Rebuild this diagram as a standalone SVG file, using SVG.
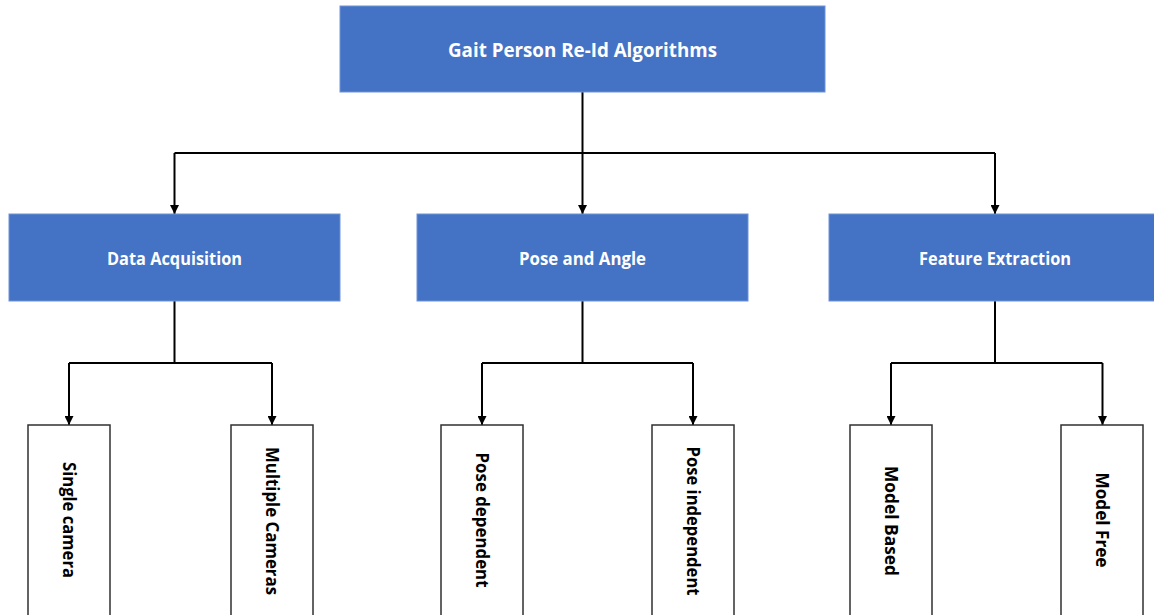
<svg xmlns="http://www.w3.org/2000/svg" width="1154" height="615" viewBox="0 0 1154 615">
  <style>
    .head { fill: #4472C4; stroke: #6E93D6; stroke-width: 1; }
    .leaf { fill: #FFFFFF; stroke: #303030; stroke-width: 1.5; }
    .htxt { font-family: "Open Sans", "Noto Sans", sans-serif; font-weight: bold; fill: #FFFFFF; text-anchor: middle; }
    .ltxt { font-family: "Open Sans", "Noto Sans", sans-serif; font-weight: bold; fill: #000000; text-anchor: middle; font-size: 18.5px; }
    .wire { fill: none; stroke: #000000; stroke-width: 2; }
  </style>
  <defs>
    <marker id="arrow" viewBox="0 0 10 10" refX="10" refY="5" markerWidth="4.5" markerHeight="4.5" orient="auto" markerUnits="strokeWidth">
      <path d="M0,0 L10,5 L0,10 Z" fill="#000000"/>
    </marker>
  </defs>

  <rect width="1154" height="615" fill="#FFFFFF"/>

  <!-- connectors -->
  <g id="connectors" class="wire">
    <path d="M582.5,92 V153"/>
    <path d="M174.5,153 H995"/>
    <path d="M174.5,153 V214" marker-end="url(#arrow)"/>
    <path d="M582.5,153 V214" marker-end="url(#arrow)"/>
    <path d="M995,153 V214" marker-end="url(#arrow)"/>

    <path d="M174.5,301 V363 M69,363 H272"/>
    <path d="M69,363 V425" marker-end="url(#arrow)"/>
    <path d="M272,363 V425" marker-end="url(#arrow)"/>

    <path d="M582.5,301 V363 M482,363 H693"/>
    <path d="M482,363 V425" marker-end="url(#arrow)"/>
    <path d="M693,363 V425" marker-end="url(#arrow)"/>

    <path d="M995,301 V363 M891,363 H1102.5"/>
    <path d="M891,363 V425" marker-end="url(#arrow)"/>
    <path d="M1102.5,363 V425" marker-end="url(#arrow)"/>
  </g>

  <!-- root -->
  <g id="root">
    <rect class="head" x="340" y="6" width="485" height="86"/>
    <text class="htxt" x="582.5" y="57" font-size="19.5" textLength="269" lengthAdjust="spacingAndGlyphs">Gait Person Re-Id Algorithms</text>
  </g>

  <!-- categories -->
  <g id="data-acquisition">
    <rect class="head" x="9" y="214" width="331" height="87"/>
    <text class="htxt" x="174.5" y="265" font-size="17.5" textLength="135" lengthAdjust="spacingAndGlyphs">Data Acquisition</text>
  </g>
  <g id="pose-and-angle">
    <rect class="head" x="417" y="214" width="331" height="87"/>
    <text class="htxt" x="582.5" y="265" font-size="17.5" textLength="127" lengthAdjust="spacingAndGlyphs">Pose and Angle</text>
  </g>
  <g id="feature-extraction">
    <rect class="head" x="829" y="214" width="331" height="87"/>
    <text class="htxt" x="995" y="265" font-size="17.5" textLength="152" lengthAdjust="spacingAndGlyphs">Feature Extraction</text>
  </g>

  <!-- leaves (vertical labels) -->
  <g id="single-camera">
    <rect class="leaf" x="28" y="425" width="82" height="200"/>
    <text class="ltxt" transform="translate(69,520) rotate(90)" x="0" y="6.5" textLength="116" lengthAdjust="spacingAndGlyphs">Single camera</text>
  </g>
  <g id="multiple-cameras">
    <rect class="leaf" x="231" y="425" width="82" height="200"/>
    <text class="ltxt" transform="translate(272,521) rotate(90)" x="0" y="6.5" textLength="148" lengthAdjust="spacingAndGlyphs">Multiple Cameras</text>
  </g>
  <g id="pose-dependent">
    <rect class="leaf" x="441" y="425" width="82" height="200"/>
    <text class="ltxt" transform="translate(482,520) rotate(90)" x="0" y="6.5" textLength="135" lengthAdjust="spacingAndGlyphs">Pose dependent</text>
  </g>
  <g id="pose-independent">
    <rect class="leaf" x="652" y="425" width="82" height="200"/>
    <text class="ltxt" transform="translate(693,521) rotate(90)" x="0" y="6.5" textLength="149" lengthAdjust="spacingAndGlyphs">Pose independent</text>
  </g>
  <g id="model-based">
    <rect class="leaf" x="850" y="425" width="82" height="200"/>
    <text class="ltxt" transform="translate(891,521) rotate(90)" x="0" y="6.5" textLength="110" lengthAdjust="spacingAndGlyphs">Model Based</text>
  </g>
  <g id="model-free">
    <rect class="leaf" x="1061" y="425" width="82" height="200"/>
    <text class="ltxt" transform="translate(1102,520) rotate(90)" x="0" y="6.5" textLength="95" lengthAdjust="spacingAndGlyphs">Model Free</text>
  </g>
</svg>
